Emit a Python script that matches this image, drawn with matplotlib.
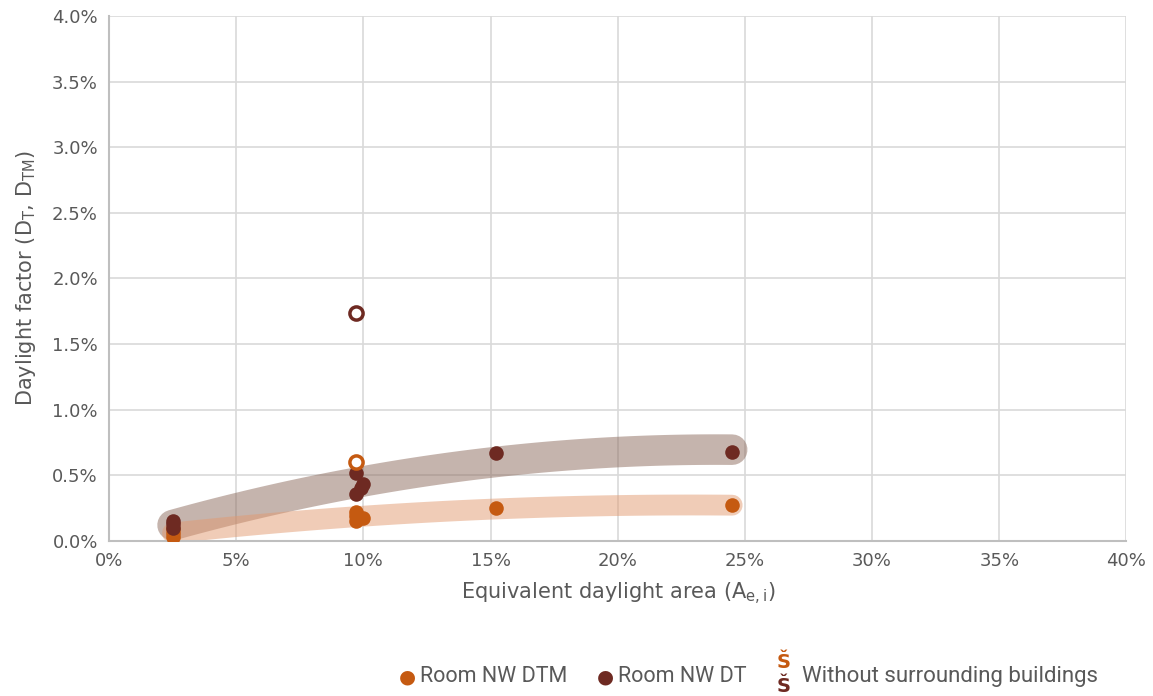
import numpy as np
import matplotlib.pyplot as plt
from matplotlib.ticker import PercentFormatter

# data, fractions
dtm_x = [0.025, 0.025, 0.025, 0.097, 0.097, 0.097, 0.100, 0.152, 0.245]
dtm_y = [0.0003, 0.0006, 0.0009, 0.0022, 0.0015, 0.0019, 0.0017, 0.0025, 0.0027]
dt_x = [0.025, 0.025, 0.025, 0.097, 0.097, 0.099, 0.100, 0.152, 0.245]
dt_y = [0.0010, 0.0013, 0.0015, 0.0052, 0.0036, 0.0040, 0.0043, 0.0067, 0.0068]
# without surrounding buildings (open markers)
dtm_open_x = [0.097]
dtm_open_y = [0.0060]
dt_open_x = [0.097]
dt_open_y = [0.0174]

c_dtm = '#C55A11'
c_dt = '#6E2A22'
grey = '#595959'

fig = plt.figure(figsize=(11.53, 6.96), dpi=100)
ax = fig.add_axes([0.0945, 0.223, 0.8825, 0.754])

# polynomial trend lines, drawn as thick translucent bands
def trend(x, y):
    p = np.polyfit(x, y, 2)
    xs = np.linspace(min(x), max(x), 100)
    return xs, np.polyval(p, xs)

xs, ys = trend(dt_x, dt_y)
ax.plot(xs, ys, color='#8C6A5C', alpha=0.5, lw=22, solid_capstyle='round', zorder=2)
xs, ys = trend(dtm_x, dtm_y)
ax.plot(xs, ys, color='#E29A70', alpha=0.5, lw=15, solid_capstyle='round', zorder=2)

ax.scatter(dtm_x, dtm_y, s=110, color=c_dtm, zorder=3, linewidths=0)
ax.scatter(dt_x, dt_y, s=110, color=c_dt, zorder=4, linewidths=0)
ax.scatter(dtm_open_x, dtm_open_y, s=90, facecolor='white', edgecolor=c_dtm, linewidths=2.5, zorder=5)
ax.scatter(dt_open_x, dt_open_y, s=90, facecolor='white', edgecolor=c_dt, linewidths=2.5, zorder=5)

ax.set_xlim(0, 0.40)
ax.set_ylim(0, 0.040)
ax.set_xticks(np.arange(0, 0.401, 0.05))
ax.set_yticks(np.arange(0, 0.0401, 0.005))
ax.xaxis.set_major_formatter(PercentFormatter(1.0, decimals=0))
ax.yaxis.set_major_formatter(PercentFormatter(1.0, decimals=1))
ax.grid(True, color='#D9D9D9', lw=1.2)
ax.set_axisbelow(True)
for side in ['top', 'right']:
    ax.spines[side].set_visible(False)
for side in ['left', 'bottom']:
    ax.spines[side].set_color('#BFBFBF')
    ax.spines[side].set_linewidth(1.5)
ax.tick_params(length=0, pad=8, labelsize=13, labelcolor=grey)

ax.set_xlabel('Equivalent daylight area (A$_{\\mathrm{e,i}}$)', fontsize=15, color=grey, labelpad=8)
ax.set_ylabel('Daylight factor (D$_{\\mathrm{T}}$, D$_{\\mathrm{TM}}$)', fontsize=15, color=grey, labelpad=10)

# legend row at the bottom
ly = 0.028
fig.text(0.353, ly, '\u25CF', color=c_dtm, fontsize=14, va='center', ha='center')
fig.text(0.364, ly, 'Room NW DTM', color=grey, fontsize=15.5, va='center', family='Roboto')
fig.text(0.525, ly, '\u25CF', color=c_dt, fontsize=14, va='center', ha='center')
fig.text(0.536, ly, 'Room NW DT', color=grey, fontsize=15.5, va='center', family='Roboto')
fig.text(0.680, ly + 0.020, '\u0160', color=c_dtm, fontsize=14, va='center', ha='center', weight='bold')
fig.text(0.680, ly - 0.015, '\u0160', color=c_dt, fontsize=14, va='center', ha='center', weight='bold')
fig.text(0.696, ly, 'Without surrounding buildings', color=grey, fontsize=16, va='center', family='Roboto')

fig.savefig('out.png', dpi=100)
